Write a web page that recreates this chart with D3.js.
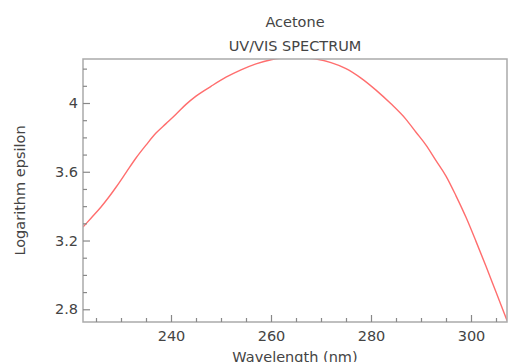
<!DOCTYPE html>
<html>
<head>
<meta charset="utf-8">
<script src="https://cdn.jsdelivr.net/npm/d3@7"></script>
<style>
  body { margin: 0; background: #fff; }
  text { font-family: "DejaVu Sans", sans-serif; fill: #444; }
</style>
</head>
<body>
<div id="chart"></div>
<script>
// The svg
var width = 509;
var height = 362;
var margin = { top: 59, right: 2, bottom: 40, left: 83 };

// data
var wavelength = [222.4, 224, 226, 227.5, 229, 231, 233, 235, 237, 239, 241, 243, 245, 248, 251, 254, 257, 260, 263, 266, 269, 272, 275, 278, 281, 284, 287, 289, 291, 293, 295, 297, 299, 301, 303, 305, 307.2];
var logEpsilon = [3.278, 3.33, 3.395, 3.45, 3.51, 3.595, 3.68, 3.755, 3.825, 3.88, 3.935, 3.992, 4.04, 4.097, 4.15, 4.193, 4.228, 4.252, 4.262, 4.262, 4.255, 4.235, 4.2, 4.145, 4.075, 3.995, 3.905, 3.83, 3.755, 3.665, 3.575, 3.46, 3.335, 3.195, 3.05, 2.9, 2.735];

var xTicks = [240, 260, 280, 300];
var yTicks = [2.8, 3.2, 3.6, 4];
var titleLines = ["Acetone", "UV/VIS SPECTRUM"];

var svg = d3.select("#chart")
    .append("svg")
    .attr("width", width)
    .attr("height", height);

var x = d3.scaleLinear()
    .domain([222.4, 307.2])
    .range([margin.left, width - margin.right]);

var y = d3.scaleLinear()
    .domain([2.726, 4.256])
    .range([height - margin.bottom, margin.top]);

var plotW = width - margin.right - margin.left;
var plotH = height - margin.bottom - margin.top;

// clip so the peak runs along the frame
svg.append("clipPath").attr("id", "clip")
    .append("rect")
    .attr("x", margin.left).attr("y", margin.top)
    .attr("width", plotW).attr("height", plotH);

// the curve
var points = wavelength.map(function (d, i) { return [d, logEpsilon[i]]; });
svg.append("path")
    .datum(points)
    .attr("clip-path", "url(#clip)")
    .attr("fill", "none")
    .attr("stroke", "#ff6e6e")
    .attr("stroke-width", 1.4)
    .attr("d", d3.line()
        .curve(d3.curveMonotoneX)
        .x(function (d) { return x(d[0]); })
        .y(function (d) { return y(d[1]); }));

// frame
svg.append("rect")
    .attr("x", margin.left).attr("y", margin.top)
    .attr("width", plotW).attr("height", plotH)
    .attr("fill", "none")
    .attr("stroke", "#aaa")
    .attr("stroke-width", 1.5);

// bottom axis, ticks inside
var xAxis = svg.append("g")
    .attr("transform", "translate(0," + (height - margin.bottom) + ")");
xAxis.call(d3.axisBottom(x).tickValues(d3.range(225, 307, 5)).tickSize(-4).tickFormat(""));
xAxis.call(function (g) {
    g.selectAll(".tick line").filter(function (d) { return xTicks.indexOf(d) >= 0; }).attr("y2", -7);
});
var xLab = svg.append("g")
    .attr("transform", "translate(0," + (height - margin.bottom) + ")")
    .call(d3.axisBottom(x).tickValues(xTicks).tickSize(0).tickPadding(9).tickFormat(d3.format("d")));

// left axis, ticks inside
var yAxis = svg.append("g")
    .attr("transform", "translate(" + margin.left + ",0)");
yAxis.call(d3.axisLeft(y).tickValues(d3.range(2.8, 4.26, 0.1)).tickSize(-4).tickFormat(""));
yAxis.call(function (g) {
    g.selectAll(".tick line").filter(function (d) {
        return yTicks.some(function (t) { return Math.abs(t - d) < 1e-6; });
    }).attr("x2", 7);
});
var yLab = svg.append("g")
    .attr("transform", "translate(" + margin.left + ",0)")
    .call(d3.axisLeft(y).tickValues(yTicks).tickSize(0).tickPadding(5).tickFormat(d3.format("")));

svg.selectAll(".domain").remove();
svg.selectAll(".tick line").attr("stroke", "#888").attr("stroke-width", 1.2);
svg.selectAll(".tick text").style("font-size", "14.5px").style("font-family", "DejaVu Sans, sans-serif").attr("fill", "#444");

// titles
svg.selectAll(".title")
    .data(titleLines)
    .enter()
    .append("text")
    .attr("class", "title")
    .attr("x", margin.left + plotW / 2)
    .attr("y", function (d, i) { return 27 + i * 24; })
    .attr("text-anchor", "middle")
    .style("font-size", "14.5px")
    .text(function (d) { return d; });

// axis labels
svg.append("text")
    .attr("x", margin.left + plotW / 2)
    .attr("y", 362)
    .attr("text-anchor", "middle")
    .style("font-size", "14.5px")
    .text("Wavelength (nm)");

svg.append("text")
    .attr("transform", "translate(25," + (margin.top + plotH / 2) + ") rotate(-90)")
    .attr("text-anchor", "middle")
    .style("font-size", "14.5px")
    .text("Logarithm epsilon");
</script>
</body>
</html>
